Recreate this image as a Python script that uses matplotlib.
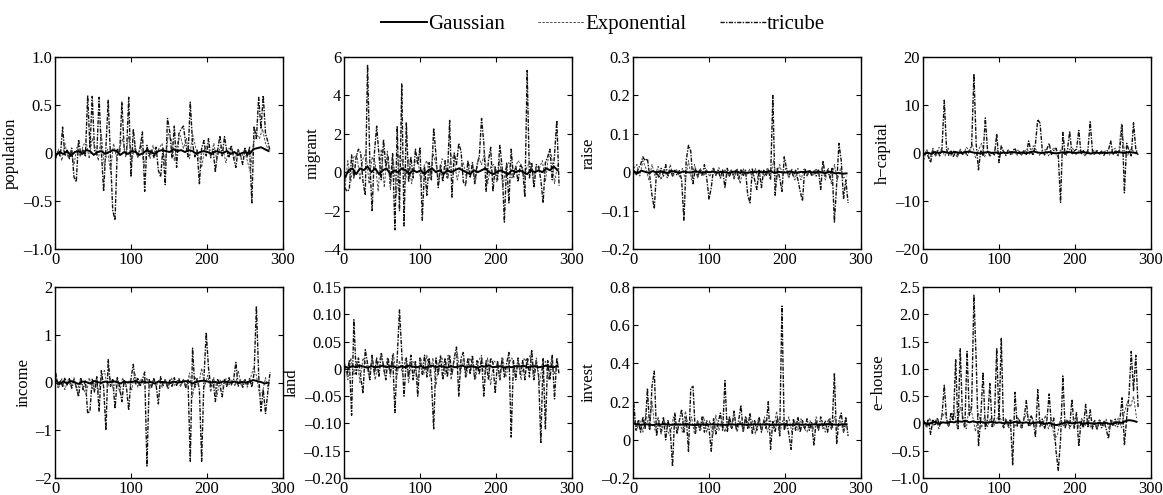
import numpy as np
import matplotlib
matplotlib.use("Agg")
import matplotlib.pyplot as plt

plt.rcParams['font.family'] = ['Liberation Serif', 'DejaVu Serif']

# ---------------- data ----------------
series_names = ["Gaussian", "Exponential", "tricube"]
panel_names = ["population", "migrant", "raise", "h\u2212capital",
               "income", "land", "invest", "e\u2212house"]

# sampling steps along observation index (observation numbers start at 1)
step_gau, step_exp, step_tri = 5, 4, 3

pop_gau = [-0.02,0.01,-0.01,0.02,-0.03,0.01,0.02,-0.01,0.03,0.02,
           -0.02,0.01,0.02,-0.01,0.01,0.03,0.02,-0.02,0.01,-0.01,
           0.02,0.01,-0.02,0.00,0.03,0.01,-0.01,0.02,0.03,0.02,
           0.01,0.04,0.02,0.03,0.01,0.03,0.02,-0.01,0.01,0.02,
           0.01,-0.01,0.02,0.01,0.00,0.02,-0.01,0.01,-0.02,0.00,
           0.01,-0.01,0.04,0.05,0.06,0.04,0.02]
pop_exp = [-0.06,0.04,-0.08,0.10,-0.05,0.03,-0.12,0.06,-0.04,0.08,
           0.12,-0.06,0.15,0.05,-0.08,0.20,-0.15,0.04,-0.20,0.10,
           -0.05,0.06,0.15,-0.04,0.18,-0.10,0.08,-0.05,0.12,-0.15,
           0.04,-0.06,0.08,-0.03,0.05,0.10,-0.12,0.20,0.15,-0.08,
           0.10,0.18,0.05,0.15,-0.06,0.20,0.06,-0.04,-0.15,0.05,
           0.08,-0.03,0.10,-0.08,0.06,0.04,-0.10,0.05,0.03,-0.06,
           0.04,-0.05,0.03,-0.08,-0.20,0.10,0.20,0.15,0.25,0.10,
           0.03]
pop_tri = [-0.05,0.02,-0.04,0.27,-0.03,0.03,-0.06,0.05,-0.25,-0.30,
           0.14,-0.02,0.04,-0.03,0.60,0.05,0.59,0.03,-0.02,0.58,
           0.02,-0.40,0.06,0.55,-0.04,-0.60,-0.70,0.05,-0.03,0.53,
           0.04,-0.02,0.58,-0.25,0.25,0.03,-0.04,0.05,0.22,-0.40,
           0.08,-0.03,0.04,-0.05,0.06,-0.18,-0.25,0.05,-0.33,0.36,
           0.22,-0.05,0.28,-0.15,0.20,0.25,0.28,0.10,-0.04,0.53,
           0.10,-0.04,0.03,-0.32,0.05,0.13,-0.03,0.15,-0.05,0.04,
           -0.20,0.03,0.18,-0.03,0.17,0.02,-0.04,0.08,-0.05,-0.15,
           0.04,-0.03,-0.12,0.05,-0.04,0.06,-0.52,0.28,0.15,0.58,
           0.25,0.60,0.20,0.12,0.02]

mig_gau = [-0.3,0.1,0.2,-0.1,0.2,0.1,0.3,0.0,0.2,-0.1,
           0.1,0.2,-0.1,0.1,0.0,0.2,0.1,-0.1,0.1,0.0,
           0.1,-0.1,0.1,0.2,0.0,0.1,-0.1,0.1,0.0,0.1,
           0.2,0.1,0.0,-0.1,0.1,0.0,0.1,0.2,0.0,-0.1,
           0.0,0.1,0.0,-0.1,0.1,0.0,0.1,0.0,-0.1,0.1,
           0.0,0.1,0.0,0.2,0.1,0.3,0.1]
mig_exp = [-0.9,0.6,-0.5,0.8,0.9,-0.4,0.7,1.0,-0.6,0.8,
           0.5,-1.0,1.2,-0.8,1.1,-0.9,0.6,-1.2,0.9,0.5,
           -0.4,0.7,-0.6,0.4,0.8,-0.5,0.3,0.6,-0.3,1.0,
           0.4,-0.5,0.7,0.5,-0.3,0.9,0.6,-0.4,0.3,0.5,
           -0.3,0.4,0.3,-0.5,0.8,0.4,1.0,-0.6,0.3,0.4,
           -0.5,0.6,-0.8,0.3,0.5,-0.3,0.2,0.6,0.4,-0.3,
           0.3,0.5,-0.4,0.3,0.2,0.6,-0.5,0.8,0.9,-0.6,
           0.4]
mig_tri = [-0.8,-1.0,-0.9,0.9,-0.3,0.8,1.2,1.0,-0.5,-1.2,
           5.6,0.5,-2.0,1.0,2.4,0.9,-0.4,1.7,0.3,0.8,
           -0.6,1.0,-3.0,2.4,-2.0,4.6,-2.8,2.6,-0.5,0.8,
           -0.3,1.2,0.4,1.3,-2.5,0.3,-1.2,0.5,-0.4,2.3,
           0.9,-0.8,0.4,-0.5,0.6,-0.3,2.7,-1.3,1.0,0.4,
           1.5,1.1,-0.5,-0.7,0.6,-0.3,0.5,-0.6,0.4,0.8,
           2.8,1.5,-1.0,0.6,1.3,-1.0,0.3,-0.4,1.4,0.3,
           -2.6,0.5,-1.6,1.2,-0.3,0.3,-0.5,0.4,0.2,-1.3,
           5.3,-0.3,0.5,-0.8,0.4,0.3,-0.4,-1.6,0.5,0.8,
           1.2,-0.4,0.9,2.7,-0.7]

rai_gau = [0.002,-0.003,0.004,0.001,-0.002,0.003,-0.001,0.002,0.000,-0.002,
           0.003,0.001,-0.002,0.002,0.000,-0.001,0.002,0.001,-0.002,0.001,
           0.000,0.002,-0.001,0.001,0.000,-0.002,0.001,0.002,-0.001,0.000,
           -0.002,0.001,0.000,0.002,-0.001,0.001,0.003,-0.002,0.001,0.000,
           -0.001,0.002,0.000,-0.002,0.001,0.000,0.002,-0.001,0.000,0.001,
           -0.002,0.000,0.001,-0.003,-0.002,-0.004,-0.003]
rai_exp = [0.01,0.02,-0.01,0.03,0.01,-0.02,0.02,-0.01,0.015,-0.02,
           0.01,-0.015,0.02,-0.01,0.008,-0.012,0.01,-0.02,0.03,-0.02,
           0.02,-0.015,0.01,-0.01,0.008,-0.012,0.01,-0.008,0.012,-0.01,
           0.006,-0.01,0.008,-0.02,0.01,-0.03,0.01,-0.01,0.008,-0.015,
           0.01,-0.02,0.006,-0.01,0.012,-0.01,0.03,-0.02,0.02,-0.01,
           0.01,-0.015,0.008,-0.02,0.01,-0.02,0.008,-0.01,0.006,-0.01,
           0.01,-0.012,0.015,-0.02,0.01,-0.03,0.02,-0.02,0.01,-0.015,
           -0.01]
rai_tri = [0.005,-0.008,0.01,0.02,0.04,0.03,0.035,-0.01,-0.06,-0.095,
           0.005,-0.015,0.01,-0.01,0.02,-0.012,0.008,-0.01,0.005,-0.008,
           0.004,-0.02,-0.125,0.03,0.07,0.055,-0.03,0.01,-0.012,0.008,
           -0.01,0.02,-0.015,-0.07,-0.04,0.01,-0.008,0.005,-0.015,0.006,
           -0.04,0.01,-0.01,0.005,-0.012,0.008,-0.02,0.006,-0.01,0.005,
           -0.06,-0.08,0.01,-0.02,-0.045,0.008,-0.04,0.005,-0.01,0.006,
           -0.02,0.20,-0.06,0.01,-0.015,-0.05,0.04,0.01,-0.012,0.006,
           -0.01,0.005,-0.02,-0.05,-0.075,0.01,-0.01,0.006,-0.008,0.005,
           -0.01,0.008,-0.045,0.03,-0.01,0.006,-0.015,0.01,-0.13,-0.03,
           0.075,0.03,-0.07,-0.02,-0.08]

hc_gau = [-0.3,0.1,-0.2,0.2,0.0,0.3,0.1,-0.1,0.2,0.1,
          0.0,0.2,0.3,0.1,0.0,-0.1,0.1,0.2,0.0,0.1,
          -0.1,0.1,0.0,0.2,0.1,0.0,0.1,-0.1,0.2,0.3,
          0.1,0.0,0.1,0.2,0.0,-0.1,0.1,0.0,0.2,0.1,
          0.0,0.1,0.2,0.0,-0.1,0.1,0.0,0.1,0.0,0.1,
          0.0,0.2,0.1,0.0,0.2,0.1,0.0]
hc_exp = [-1.5,0.8,-1.2,1.0,-0.8,1.2,0.5,-0.6,1.0,-0.5,
          0.6,-1.0,0.8,-0.4,1.2,0.5,1.8,-1.0,0.6,2.0,
          -0.8,0.5,-0.6,0.4,0.8,-0.5,0.6,-0.4,0.5,-0.3,
          0.4,0.6,-0.5,0.3,0.8,-0.4,1.5,0.6,-0.5,0.4,
          0.7,-0.6,0.5,1.2,-0.8,0.6,0.4,-0.5,0.8,1.0,
          -0.4,0.5,0.3,-0.6,0.4,-0.3,0.6,0.5,-0.4,0.3,
          0.4,-0.5,0.6,1.0,-0.8,6.0,0.5,-0.6,0.8,0.4,
          -0.3]
hc_tri = [-0.5,0.3,-0.8,-2.0,0.6,-0.4,0.5,-0.6,1.0,11.0,
          0.8,-0.5,0.4,-0.7,0.3,-0.4,0.6,-0.3,0.5,-0.6,
          0.4,1.5,16.5,1.8,-3.5,0.6,-0.5,7.3,0.4,-0.6,
          0.3,-0.4,4.0,-2.0,1.5,0.3,-0.5,0.6,-0.3,0.4,
          1.0,-0.4,0.3,-0.5,0.6,-0.3,2.5,0.4,-0.5,2.0,
          7.0,6.2,0.5,-0.4,0.8,2.0,-0.3,0.5,1.0,-0.4,
          -10.3,4.3,-0.5,0.6,4.5,-0.3,0.4,0.8,4.7,-0.3,
          0.5,-0.4,0.6,6.5,0.3,-0.4,0.5,-0.3,0.4,-0.5,
          0.3,0.6,2.5,-0.3,0.4,-0.5,0.8,6.0,-8.3,2.0,
          0.5,-0.6,6.3,0.8,-0.4]

inc_gau = [0.05,-0.03,0.02,-0.02,0.03,0.00,-0.03,0.02,0.01,-0.02,
           0.03,0.01,-0.01,0.02,0.00,0.03,0.01,-0.02,0.02,0.00,
           0.01,0.03,-0.01,0.02,0.00,0.01,-0.02,0.02,0.01,0.00,
           -0.01,0.02,0.00,0.01,0.03,0.02,-0.02,0.01,0.03,0.04,
           0.02,0.00,0.01,-0.01,0.02,0.01,0.00,0.02,-0.01,0.01,
           0.00,0.02,0.05,0.03,0.01,-0.02,0.00]
inc_exp = [0.15,-0.10,0.08,-0.15,0.05,-0.08,0.10,-0.20,0.06,-0.12,
           -0.25,0.10,-0.15,0.05,-0.20,0.12,0.25,-0.10,0.08,-0.15,
           0.06,-0.20,0.10,-0.08,0.05,-0.15,0.20,-0.10,0.08,-0.05,
           0.10,-0.12,0.06,-0.08,0.05,-0.10,0.08,-0.15,0.10,-0.06,
           0.05,-0.08,0.06,-0.10,0.20,-0.30,0.10,-0.05,0.30,-0.08,
           0.15,-0.20,0.10,-0.30,0.06,-0.10,0.08,-0.05,0.06,-0.08,
           0.25,-0.06,0.05,-0.10,0.08,0.30,0.15,-0.25,-0.20,0.10,
           -0.15]
inc_tri = [0.20,-0.10,0.05,-0.08,0.10,-0.05,0.08,-0.12,0.06,-0.10,
           -0.30,0.10,-0.15,0.05,-0.65,-0.60,0.08,-0.20,0.12,-0.60,
           0.25,-0.10,-1.00,0.48,-0.08,0.06,-0.55,0.10,-0.08,-0.40,
           0.06,-0.10,-0.58,0.08,0.38,-0.05,0.10,-0.08,0.05,0.22,
           -1.75,0.06,-0.10,0.08,-0.05,-0.45,0.12,-0.08,0.06,-0.10,
           0.05,-0.08,0.10,-0.06,0.08,-0.05,0.06,-0.10,0.05,-1.65,
           0.72,-0.10,0.08,-0.15,-1.65,0.10,1.05,0.30,-0.10,0.06,
           -0.40,0.08,-0.05,-0.30,0.06,-0.08,0.10,-0.05,0.06,0.42,
           -0.08,0.05,-0.10,0.06,-0.05,0.08,-0.10,0.20,1.60,0.15,
           -0.60,-0.15,-0.65,-0.20,0.22]

lan_gau = [0.004,0.002,0.005,0.003,0.006,0.004,0.002,0.005,0.003,0.004,
           0.006,0.003,0.005,0.004,0.002,0.005,0.003,0.006,0.004,0.003,
           0.005,0.002,0.004,0.006,0.003,0.005,0.004,0.002,0.005,0.003,
           0.004,0.006,0.003,0.005,0.004,0.002,0.005,0.004,0.006,0.003,
           0.004,0.005,0.002,0.004,0.003,0.005,0.004,0.006,0.003,0.004,
           0.005,0.003,0.004,0.006,0.004,0.003,0.005]
lan_exp = [0.01,-0.02,0.02,-0.01,0.015,-0.025,0.02,0.01,-0.015,0.02,
           -0.02,0.01,0.025,-0.01,0.02,-0.015,0.03,-0.02,0.015,-0.01,
           0.02,-0.025,0.015,0.01,-0.02,0.02,-0.01,0.025,-0.015,0.02,
           -0.03,0.015,0.02,-0.01,0.025,-0.02,0.015,0.03,-0.01,0.02,
           -0.015,0.02,0.01,-0.02,0.015,0.025,-0.01,0.02,-0.03,0.015,
           0.01,-0.02,0.02,-0.015,0.01,0.02,-0.01,0.015,-0.02,0.02,
           0.01,0.025,-0.015,0.02,-0.03,0.01,0.015,-0.02,0.02,-0.01,
           0.01]
lan_tri = [0.005,-0.01,0.015,-0.085,0.09,-0.01,0.02,-0.015,-0.045,0.035,
           0.01,-0.02,0.025,-0.01,0.02,-0.015,0.03,0.005,-0.02,0.02,
           -0.01,0.025,-0.08,0.02,0.108,0.03,-0.05,0.02,-0.015,0.025,
           -0.02,0.015,-0.05,0.02,-0.01,0.025,-0.015,0.02,-0.02,-0.11,
           0.02,-0.01,0.025,-0.02,0.02,-0.015,0.025,-0.01,0.02,0.04,
           -0.05,0.02,0.03,-0.015,0.02,-0.01,0.025,-0.02,0.015,-0.01,
           0.02,-0.05,0.015,-0.02,0.02,0.01,-0.045,0.015,-0.02,0.02,
           -0.015,0.01,0.03,-0.125,0.015,-0.02,0.02,-0.01,0.015,-0.02,
           0.02,-0.015,0.035,-0.02,0.015,-0.01,-0.135,0.02,-0.11,0.015,
           -0.02,0.025,-0.055,0.02,-0.01]

inv_gau = [0.085,0.080,0.078,0.082,0.080,0.077,0.081,0.079,0.083,0.080,
           0.078,0.081,0.079,0.080,0.082,0.079,0.077,0.080,0.081,0.078,
           0.080,0.082,0.079,0.080,0.078,0.081,0.080,0.079,0.082,0.080,
           0.078,0.080,0.081,0.079,0.080,0.082,0.078,0.080,0.079,0.081,
           0.080,0.078,0.080,0.081,0.079,0.080,0.078,0.081,0.080,0.079,
           0.080,0.082,0.079,0.080,0.078,0.081,0.080]
inv_exp = [0.12,0.05,0.10,0.04,0.14,0.06,0.20,0.05,0.12,0.03,
           0.10,0.05,0.02,0.12,0.06,0.10,0.04,0.15,0.06,0.12,
           0.03,0.10,0.05,0.12,0.04,0.10,0.02,0.13,0.05,0.10,
           0.04,0.11,0.06,0.14,0.04,0.10,0.05,0.12,0.06,0.10,
           0.03,0.11,0.05,0.12,0.04,0.10,0.06,0.15,0.03,0.10,
           0.06,0.12,0.04,0.10,0.05,0.11,0.06,0.04,0.10,0.05,
           0.12,0.06,0.10,0.04,0.11,0.05,0.12,0.06,0.10,0.04,
           0.08]
inv_tri = [0.19,0.05,0.10,0.04,0.12,0.06,0.27,0.05,0.28,0.36,
           0.02,0.10,0.04,0.12,0.00,0.10,0.05,-0.14,0.14,0.03,
           0.10,0.16,0.04,0.12,-0.06,0.27,0.28,0.03,0.10,0.05,
           0.12,0.04,0.10,0.06,-0.06,0.11,0.03,0.09,0.14,0.05,
           0.31,0.04,0.12,0.06,0.15,0.05,0.10,0.18,0.04,0.12,
           0.06,0.14,0.03,0.10,0.05,0.12,0.04,0.10,0.06,0.20,
           -0.05,0.10,0.04,0.12,0.02,0.70,0.05,0.10,0.03,-0.05,
           0.11,0.05,0.12,0.04,0.10,0.06,0.11,0.05,0.09,-0.03,
           0.10,0.05,0.12,0.06,0.10,0.04,0.11,0.06,0.35,-0.02,
           0.10,0.14,0.04,0.12,0.02]

eh_gau = [0.02,-0.02,0.01,0.03,-0.01,0.02,0.01,0.03,0.02,0.04,
          0.03,0.05,0.02,0.04,0.02,0.03,0.01,0.02,0.03,0.01,
          0.02,0.00,0.02,0.01,0.03,0.02,0.01,0.02,0.00,0.01,
          0.02,0.01,-0.01,0.01,-0.02,-0.03,-0.01,0.01,0.02,0.00,
          0.01,0.02,-0.01,0.01,0.00,-0.01,0.01,0.00,0.01,-0.01,
          0.00,0.02,0.01,0.04,0.06,0.05,0.03]
eh_exp = [0.05,-0.08,0.10,-0.05,0.08,-0.10,0.12,0.20,-0.06,0.10,
          0.25,-0.08,0.30,0.10,-0.10,0.35,0.15,-0.15,0.20,-0.08,
          0.12,-0.06,0.10,-0.05,0.08,0.15,-0.06,0.10,-0.08,0.06,
          -0.05,0.12,-0.10,0.08,0.20,-0.05,0.06,-0.08,0.10,-0.06,
          0.15,-0.10,0.08,-0.30,-0.20,0.10,-0.06,0.08,-0.10,0.06,
          0.12,-0.08,0.10,-0.05,0.06,-0.08,0.05,-0.10,0.06,-0.05,
          0.08,-0.12,0.06,-0.05,0.10,-0.08,0.20,0.40,0.30,0.50,
          0.10]
eh_tri = [0.05,-0.05,0.08,-0.20,0.06,-0.04,0.10,-0.05,0.15,0.70,
          0.08,-0.06,0.20,0.05,1.18,-0.10,1.37,0.10,-0.08,1.32,
          0.15,0.30,2.35,1.15,-0.42,0.10,0.94,-0.10,0.08,0.73,
          -0.06,0.10,1.38,0.05,1.57,-0.08,0.06,-0.05,0.08,-0.77,
          0.57,-0.05,0.06,-0.08,0.10,0.42,-0.06,0.15,0.05,-0.25,
          0.62,-0.06,0.08,-0.10,0.06,0.54,-0.05,0.10,-0.50,-0.86,
          -0.30,0.87,-0.08,0.06,-0.05,0.44,-0.10,0.20,-0.42,0.05,
          -0.08,0.35,-0.06,0.25,-0.10,0.05,-0.12,0.06,-0.08,0.05,
          -0.10,-0.28,0.06,-0.05,0.08,-0.06,0.05,0.47,-0.40,0.10,
          0.50,1.32,0.60,1.25,0.30]

gau_data = [pop_gau, mig_gau, rai_gau, hc_gau, inc_gau, lan_gau, inv_gau, eh_gau]
exp_data = [pop_exp, mig_exp, rai_exp, hc_exp, inc_exp, lan_exp, inv_exp, eh_exp]
tri_data = [pop_tri, mig_tri, rai_tri, hc_tri, inc_tri, lan_tri, inv_tri, eh_tri]

y_ticks = [
    [-1.0, -0.5, 0, 0.5, 1.0],
    [-4, -2, 0, 2, 4, 6],
    [-0.2, -0.1, 0, 0.1, 0.2, 0.3],
    [-20, -10, 0, 10, 20],
    [-2, -1, 0, 1, 2],
    [-0.20, -0.15, -0.10, -0.05, 0, 0.05, 0.10, 0.15],
    [-0.2, 0, 0.2, 0.4, 0.6, 0.8],
    [-1.0, -0.5, 0, 0.5, 1.0, 1.5, 2.0, 2.5],
]
y_ticklabels = [
    ["\u20131.0", "\u20130.5", "0", "0.5", "1.0"],
    ["\u20134", "\u20132", "0", "2", "4", "6"],
    ["\u20130.2", "\u20130.1", "0", "0.1", "0.2", "0.3"],
    ["\u201320", "\u201310", "0", "10", "20"],
    ["\u20132", "\u20131", "0", "1", "2"],
    ["\u20130.20", "\u20130.15", "\u20130.10", "\u20130.05", "0", "0.05", "0.10", "0.15"],
    ["\u20130.2", "0", "0.2", "0.4", "0.6", "0.8"],
    ["\u20131.0", "\u20130.5", "0", "0.5", "1.0", "1.5", "2.0", "2.5"],
]
x_ticks = [0, 100, 200, 300]
x_ticklabels = ["0", "100", "200", "300"]

# ---------------- figure ----------------
W, H = 1163, 495
fig = plt.figure(figsize=(W / 100, H / 100), dpi=100)

col_left = [55, 344, 633, 923]
ax_w = 228
row_top = [57, 287]
row_h = [192, 191]

handles = None
for i in range(8):
    r, c = divmod(i, 4)
    ax = fig.add_axes([col_left[c] / W, 1 - (row_top[r] + row_h[r]) / H,
                       ax_w / W, row_h[r] / H])
    xt = 1 + step_tri * np.arange(len(tri_data[i]))
    xe = 1 + step_exp * np.arange(len(exp_data[i]))
    xg = 1 + step_gau * np.arange(len(gau_data[i]))
    l3, = ax.plot(xt, tri_data[i], color='#111111', lw=1.0,
                  linestyle=(0, (3.0, 1.0, 1.0, 1.0)), label=series_names[2])
    l2, = ax.plot(xe, exp_data[i], color='#4a4a4a', lw=0.7,
                  linestyle=(0, (2.5, 1.5)), label=series_names[1])
    l1, = ax.plot(xg, gau_data[i], color='#000000', lw=1.4,
                  label=series_names[0])
    if handles is None:
        handles = [l1, l2, l3]
    ax.set_xlim(0, 300)
    ax.set_ylim(y_ticks[i][0], y_ticks[i][-1])
    ax.set_xticks(x_ticks)
    ax.set_xticklabels(x_ticklabels)
    ax.set_yticks(y_ticks[i])
    ax.set_yticklabels(y_ticklabels[i])
    ax.tick_params(direction='in', top=True, right=True, length=3.5,
                   width=0.8, labelsize=12, pad=2)
    for s in ax.spines.values():
        s.set_linewidth(1.0)
    ax.set_ylabel(panel_names[i], fontsize=12, labelpad=3)

fig.legend(handles, series_names, loc='center',
           bbox_to_anchor=(603 / W, 1 - 24 / H), ncol=3, frameon=False,
           fontsize=15, handlelength=2.2, handletextpad=0.05,
           columnspacing=1.6)

fig.savefig("out.png", dpi=100)
